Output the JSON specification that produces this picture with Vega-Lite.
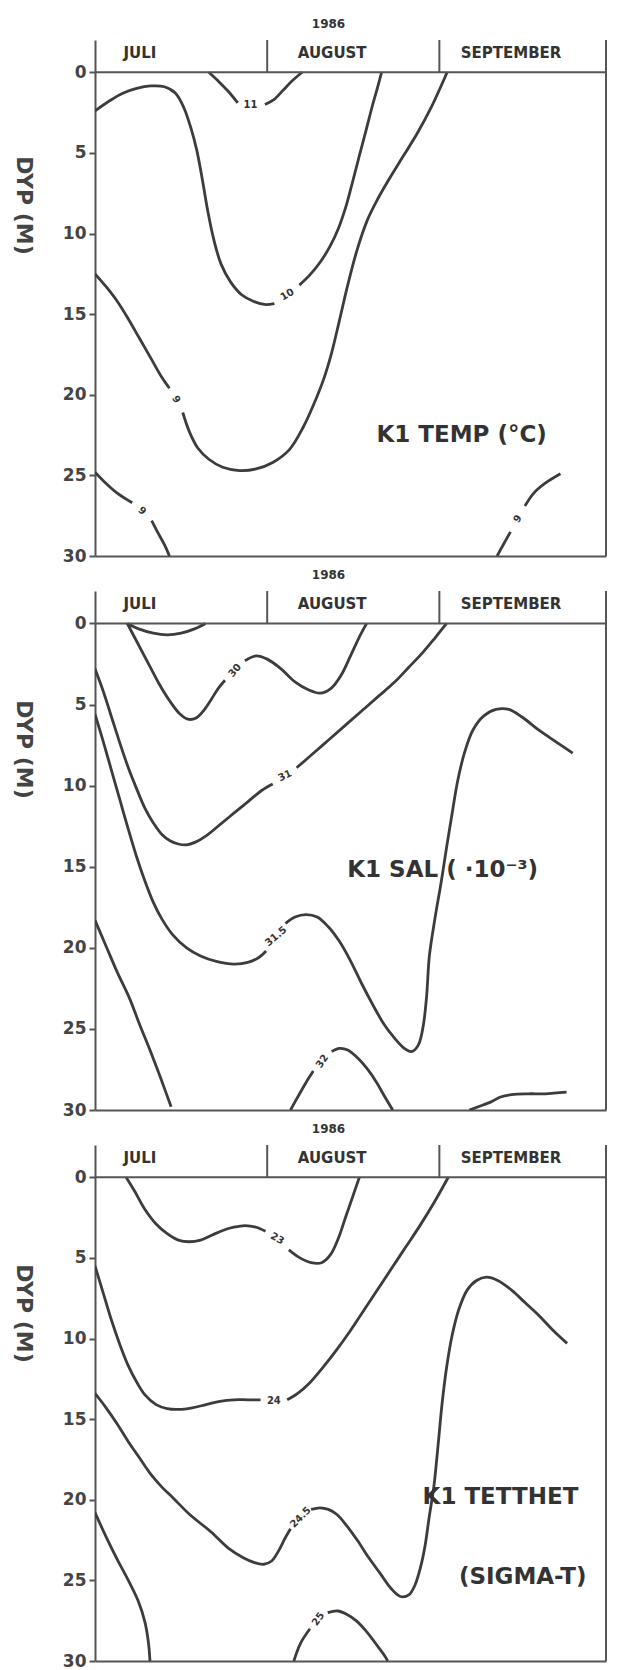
{
"$schema": "https://vega.github.io/schema/vega-lite/v6.json",
"background": "white",
"padding": {"left": 12, "top": 18, "right": 4, "bottom": 0},
"spacing": 5,
"config": {"view": {"stroke": null}, "font": "DejaVu Sans", "axis": {"grid": false}, "title": {"fontSize": 12, "fontWeight": "bold", "color": "#333", "font": "DejaVu Sans"}},
"datasets": {
"temp": [
{"k":"11a","dag":20.5,"dybde":0},{"k":"11a","dag":22.2,"dybde":0.55},{"k":"11a","dag":23.9,"dybde":1.15},{"k":"11a","dag":25.7,"dybde":1.9},
{"k":"11b","dag":30.6,"dybde":2.0},{"k":"11b","dag":32.2,"dybde":1.7},{"k":"11b","dag":33.9,"dybde":1.1},{"k":"11b","dag":35.6,"dybde":0.5},{"k":"11b","dag":37.3,"dybde":0},
{"k":"10a","dag":0,"dybde":2.4},{"k":"10a","dag":2.5,"dybde":1.8},{"k":"10a","dag":5,"dybde":1.3},{"k":"10a","dag":7.5,"dybde":1.0},{"k":"10a","dag":10,"dybde":0.85},{"k":"10a","dag":12.5,"dybde":0.9},{"k":"10a","dag":14.5,"dybde":1.3},{"k":"10a","dag":16,"dybde":2.2},{"k":"10a","dag":17.3,"dybde":3.5},{"k":"10a","dag":18.3,"dybde":4.8},{"k":"10a","dag":19.3,"dybde":6.6},{"k":"10a","dag":20.3,"dybde":8.6},{"k":"10a","dag":21.4,"dybde":10.4},{"k":"10a","dag":22.7,"dybde":11.9},{"k":"10a","dag":24.4,"dybde":13.0},{"k":"10a","dag":26.4,"dybde":13.8},{"k":"10a","dag":28.5,"dybde":14.2},{"k":"10a","dag":30.5,"dybde":14.4},{"k":"10a","dag":32.3,"dybde":14.35},
{"k":"10b","dag":36.8,"dybde":13.2},{"k":"10b","dag":38.6,"dybde":12.6},{"k":"10b","dag":40.5,"dybde":11.8},{"k":"10b","dag":42.3,"dybde":10.8},{"k":"10b","dag":43.8,"dybde":9.7},{"k":"10b","dag":45.2,"dybde":8.3},{"k":"10b","dag":46.3,"dybde":6.9},{"k":"10b","dag":47.5,"dybde":5.3},{"k":"10b","dag":48.8,"dybde":3.6},{"k":"10b","dag":50,"dybde":2.0},{"k":"10b","dag":50.9,"dybde":0.9},{"k":"10b","dag":51.6,"dybde":0},
{"k":"9a","dag":0,"dybde":12.5},{"k":"9a","dag":2,"dybde":13.3},{"k":"9a","dag":4,"dybde":14.2},{"k":"9a","dag":6,"dybde":15.3},{"k":"9a","dag":8,"dybde":16.5},{"k":"9a","dag":10,"dybde":17.7},{"k":"9a","dag":12,"dybde":18.9},{"k":"9a","dag":13.4,"dybde":19.6},
{"k":"9b","dag":15.8,"dybde":21.1},{"k":"9b","dag":17,"dybde":22.3},{"k":"9b","dag":18.5,"dybde":23.3},{"k":"9b","dag":20.5,"dybde":24.0},{"k":"9b","dag":23,"dybde":24.5},{"k":"9b","dag":26,"dybde":24.7},{"k":"9b","dag":29,"dybde":24.6},{"k":"9b","dag":32,"dybde":24.2},{"k":"9b","dag":35,"dybde":23.4},{"k":"9b","dag":37.5,"dybde":22.0},{"k":"9b","dag":39.5,"dybde":20.5},{"k":"9b","dag":41.2,"dybde":19.0},{"k":"9b","dag":42.6,"dybde":17.4},{"k":"9b","dag":44,"dybde":15.4},{"k":"9b","dag":45.5,"dybde":13.2},{"k":"9b","dag":47.2,"dybde":11.0},{"k":"9b","dag":49,"dybde":9.2},{"k":"9b","dag":51,"dybde":7.8},{"k":"9b","dag":53,"dybde":6.6},{"k":"9b","dag":55.5,"dybde":5.2},{"k":"9b","dag":58,"dybde":3.8},{"k":"9b","dag":60.5,"dybde":2.2},{"k":"9b","dag":63.4,"dybde":0},
{"k":"9c","dag":0,"dybde":24.8},{"k":"9c","dag":2,"dybde":25.5},{"k":"9c","dag":4,"dybde":26.1},{"k":"9c","dag":6.7,"dybde":26.7},
{"k":"9d","dag":10.2,"dybde":27.8},{"k":"9d","dag":11.4,"dybde":28.6},{"k":"9d","dag":12.5,"dybde":29.3},{"k":"9d","dag":13.4,"dybde":30},
{"k":"9e","dag":72.4,"dybde":30},{"k":"9e","dag":73.5,"dybde":29.3},{"k":"9e","dag":74.8,"dybde":28.5},
{"k":"9f","dag":77.4,"dybde":26.9},{"k":"9f","dag":79,"dybde":26.1},{"k":"9f","dag":81,"dybde":25.5},{"k":"9f","dag":83.8,"dybde":24.9}
],
"sal": [
{"k":"dip","dag":5.8,"dybde":0},{"k":"dip","dag":8,"dybde":0.35},{"k":"dip","dag":10.5,"dybde":0.6},{"k":"dip","dag":13,"dybde":0.7},{"k":"dip","dag":15.5,"dybde":0.6},{"k":"dip","dag":17.8,"dybde":0.35},{"k":"dip","dag":19.9,"dybde":0},
{"k":"30a","dag":5.8,"dybde":0},{"k":"30a","dag":7.5,"dybde":1.1},{"k":"30a","dag":9.5,"dybde":2.4},{"k":"30a","dag":11.5,"dybde":3.7},{"k":"30a","dag":13.5,"dybde":4.8},{"k":"30a","dag":15.2,"dybde":5.55},{"k":"30a","dag":16.7,"dybde":5.9},{"k":"30a","dag":18.1,"dybde":5.85},{"k":"30a","dag":19.5,"dybde":5.4},{"k":"30a","dag":20.9,"dybde":4.7},{"k":"30a","dag":22.2,"dybde":4.0},{"k":"30a","dag":23.4,"dybde":3.5},
{"k":"30b","dag":27,"dybde":2.3},{"k":"30b","dag":29,"dybde":2.0},{"k":"30b","dag":31,"dybde":2.2},{"k":"30b","dag":33.5,"dybde":2.8},{"k":"30b","dag":36,"dybde":3.6},{"k":"30b","dag":38.5,"dybde":4.1},{"k":"30b","dag":40.5,"dybde":4.3},{"k":"30b","dag":42.5,"dybde":4.0},{"k":"30b","dag":44.3,"dybde":3.2},{"k":"30b","dag":46,"dybde":2.0},{"k":"30b","dag":47.5,"dybde":0.9},{"k":"30b","dag":48.9,"dybde":0},
{"k":"31a","dag":0,"dybde":2.8},{"k":"31a","dag":1.5,"dybde":4.2},{"k":"31a","dag":3,"dybde":5.8},{"k":"31a","dag":4.5,"dybde":7.4},{"k":"31a","dag":6,"dybde":8.9},{"k":"31a","dag":7.5,"dybde":10.2},{"k":"31a","dag":9,"dybde":11.4},{"k":"31a","dag":10.5,"dybde":12.3},{"k":"31a","dag":12,"dybde":13.0},{"k":"31a","dag":13.5,"dybde":13.4},{"k":"31a","dag":15,"dybde":13.6},{"k":"31a","dag":16.5,"dybde":13.65},{"k":"31a","dag":18,"dybde":13.5},{"k":"31a","dag":20,"dybde":13.1},{"k":"31a","dag":22.5,"dybde":12.4},{"k":"31a","dag":25,"dybde":11.7},{"k":"31a","dag":27.5,"dybde":11.0},{"k":"31a","dag":30,"dybde":10.3},{"k":"31a","dag":32,"dybde":9.9},
{"k":"31b","dag":36.3,"dybde":8.9},{"k":"31b","dag":39,"dybde":8.1},{"k":"31b","dag":42,"dybde":7.2},{"k":"31b","dag":45,"dybde":6.3},{"k":"31b","dag":48,"dybde":5.4},{"k":"31b","dag":51,"dybde":4.5},{"k":"31b","dag":54,"dybde":3.6},{"k":"31b","dag":56.5,"dybde":2.7},{"k":"31b","dag":59,"dybde":1.8},{"k":"31b","dag":61.2,"dybde":0.9},{"k":"31b","dag":63.3,"dybde":0},
{"k":"315a","dag":0,"dybde":5.6},{"k":"315a","dag":1.5,"dybde":7.3},{"k":"315a","dag":3,"dybde":9.1},{"k":"315a","dag":4.5,"dybde":10.9},{"k":"315a","dag":6,"dybde":12.7},{"k":"315a","dag":7.5,"dybde":14.4},{"k":"315a","dag":9,"dybde":15.9},{"k":"315a","dag":10.5,"dybde":17.2},{"k":"315a","dag":12,"dybde":18.2},{"k":"315a","dag":14,"dybde":19.2},{"k":"315a","dag":16.5,"dybde":20.0},{"k":"315a","dag":19,"dybde":20.5},{"k":"315a","dag":22,"dybde":20.85},{"k":"315a","dag":25,"dybde":21.0},{"k":"315a","dag":27.5,"dybde":20.9},{"k":"315a","dag":29.5,"dybde":20.6},{"k":"315a","dag":30.8,"dybde":20.2},
{"k":"315b","dag":34.3,"dybde":18.5},{"k":"315b","dag":36,"dybde":18.1},{"k":"315b","dag":38,"dybde":17.95},{"k":"315b","dag":40,"dybde":18.1},{"k":"315b","dag":42,"dybde":18.7},{"k":"315b","dag":44,"dybde":19.6},{"k":"315b","dag":46,"dybde":20.8},{"k":"315b","dag":48,"dybde":22.2},{"k":"315b","dag":50,"dybde":23.5},{"k":"315b","dag":52,"dybde":24.7},{"k":"315b","dag":54,"dybde":25.6},{"k":"315b","dag":55.7,"dybde":26.2},{"k":"315b","dag":57,"dybde":26.4},{"k":"315b","dag":58.2,"dybde":26.0},{"k":"315b","dag":59.1,"dybde":24.8},{"k":"315b","dag":59.7,"dybde":23.0},{"k":"315b","dag":60.2,"dybde":20.5},{"k":"315b","dag":61.2,"dybde":18.2},{"k":"315b","dag":62.3,"dybde":16.0},{"k":"315b","dag":63.3,"dybde":13.8},{"k":"315b","dag":64.3,"dybde":11.7},{"k":"315b","dag":65.3,"dybde":9.7},{"k":"315b","dag":66.5,"dybde":8.0},{"k":"315b","dag":68,"dybde":6.6},{"k":"315b","dag":70,"dybde":5.7},{"k":"315b","dag":72.2,"dybde":5.3},{"k":"315b","dag":74.5,"dybde":5.3},{"k":"315b","dag":77,"dybde":5.8},{"k":"315b","dag":80,"dybde":6.6},{"k":"315b","dag":83,"dybde":7.3},{"k":"315b","dag":86,"dybde":8.0},
{"k":"32a","dag":35.2,"dybde":30},{"k":"32a","dag":36.5,"dybde":29.2},{"k":"32a","dag":38,"dybde":28.3},{"k":"32a","dag":39.3,"dybde":27.6},
{"k":"32b","dag":42.6,"dybde":26.4},{"k":"32b","dag":44,"dybde":26.2},{"k":"32b","dag":45.5,"dybde":26.3},{"k":"32b","dag":47.3,"dybde":26.8},{"k":"32b","dag":49.1,"dybde":27.5},{"k":"32b","dag":50.7,"dybde":28.3},{"k":"32b","dag":52.2,"dybde":29.2},{"k":"32b","dag":53.6,"dybde":30},
{"k":"bh","dag":67.4,"dybde":30},{"k":"bh","dag":69,"dybde":29.8},{"k":"bh","dag":71.3,"dybde":29.5},{"k":"bh","dag":73,"dybde":29.2},{"k":"bh","dag":75,"dybde":29.05},{"k":"bh","dag":78,"dybde":29.0},{"k":"bh","dag":81,"dybde":29.0},{"k":"bh","dag":84.9,"dybde":28.9},
{"k":"v","dag":0,"dybde":18.3},{"k":"v","dag":2,"dybde":19.9},{"k":"v","dag":4,"dybde":21.5},{"k":"v","dag":6.2,"dybde":23.1},{"k":"v","dag":8,"dybde":24.7},{"k":"v","dag":10,"dybde":26.4},{"k":"v","dag":12,"dybde":28.2},{"k":"v","dag":13.7,"dybde":29.8}
],
"tetthet": [
{"k":"23a","dag":5.6,"dybde":0},{"k":"23a","dag":7.2,"dybde":0.9},{"k":"23a","dag":9,"dybde":2.0},{"k":"23a","dag":11,"dybde":2.9},{"k":"23a","dag":13,"dybde":3.5},{"k":"23a","dag":15,"dybde":3.9},{"k":"23a","dag":17,"dybde":4.0},{"k":"23a","dag":19,"dybde":3.9},{"k":"23a","dag":21,"dybde":3.6},{"k":"23a","dag":23,"dybde":3.3},{"k":"23a","dag":25,"dybde":3.1},{"k":"23a","dag":27,"dybde":3.0},{"k":"23a","dag":29,"dybde":3.1},{"k":"23a","dag":30.7,"dybde":3.35},
{"k":"23b","dag":34.9,"dybde":4.5},{"k":"23b","dag":36.9,"dybde":5.0},{"k":"23b","dag":38.9,"dybde":5.3},{"k":"23b","dag":40.8,"dybde":5.3},{"k":"23b","dag":42.4,"dybde":4.8},{"k":"23b","dag":43.8,"dybde":3.8},{"k":"23b","dag":45.1,"dybde":2.5},{"k":"23b","dag":46.4,"dybde":1.2},{"k":"23b","dag":47.6,"dybde":0},
{"k":"24a","dag":0,"dybde":5.5},{"k":"24a","dag":1.5,"dybde":7.2},{"k":"24a","dag":3,"dybde":8.9},{"k":"24a","dag":4.5,"dybde":10.4},{"k":"24a","dag":6,"dybde":11.7},{"k":"24a","dag":7.5,"dybde":12.7},{"k":"24a","dag":9,"dybde":13.5},{"k":"24a","dag":11,"dybde":14.1},{"k":"24a","dag":13,"dybde":14.35},{"k":"24a","dag":15,"dybde":14.4},{"k":"24a","dag":17.5,"dybde":14.3},{"k":"24a","dag":20,"dybde":14.1},{"k":"24a","dag":22.5,"dybde":13.9},{"k":"24a","dag":25,"dybde":13.8},{"k":"24a","dag":27.5,"dybde":13.8},{"k":"24a","dag":29.8,"dybde":13.8},
{"k":"24b","dag":34.6,"dybde":13.8},{"k":"24b","dag":36.5,"dybde":13.4},{"k":"24b","dag":38.5,"dybde":12.8},{"k":"24b","dag":41,"dybde":11.8},{"k":"24b","dag":43.5,"dybde":10.7},{"k":"24b","dag":46,"dybde":9.5},{"k":"24b","dag":48.5,"dybde":8.2},{"k":"24b","dag":51,"dybde":6.9},{"k":"24b","dag":53.5,"dybde":5.6},{"k":"24b","dag":56,"dybde":4.3},{"k":"24b","dag":58.5,"dybde":3.0},{"k":"24b","dag":61,"dybde":1.6},{"k":"24b","dag":63.6,"dybde":0},
{"k":"245a","dag":0,"dybde":13.4},{"k":"245a","dag":2,"dybde":14.3},{"k":"245a","dag":4,"dybde":15.3},{"k":"245a","dag":6,"dybde":16.4},{"k":"245a","dag":8,"dybde":17.4},{"k":"245a","dag":10,"dybde":18.4},{"k":"245a","dag":12,"dybde":19.2},{"k":"245a","dag":14.1,"dybde":19.9},{"k":"245a","dag":17,"dybde":20.9},{"k":"245a","dag":20.9,"dybde":22.0},{"k":"245a","dag":24,"dybde":23.0},{"k":"245a","dag":26.7,"dybde":23.6},{"k":"245a","dag":28.7,"dybde":23.9},{"k":"245a","dag":30.4,"dybde":24.0},{"k":"245a","dag":31.8,"dybde":23.8},{"k":"245a","dag":33,"dybde":23.2},{"k":"245a","dag":34.2,"dybde":22.4},{"k":"245a","dag":35.2,"dybde":21.8},
{"k":"245b","dag":38.9,"dybde":20.6},{"k":"245b","dag":40.5,"dybde":20.5},{"k":"245b","dag":42,"dybde":20.6},{"k":"245b","dag":43.5,"dybde":20.9},{"k":"245b","dag":45.3,"dybde":21.6},{"k":"245b","dag":47.2,"dybde":22.5},{"k":"245b","dag":49.3,"dybde":23.6},{"k":"245b","dag":51.4,"dybde":24.6},{"k":"245b","dag":53.3,"dybde":25.5},{"k":"245b","dag":55,"dybde":26.0},{"k":"245b","dag":56.5,"dybde":25.9},{"k":"245b","dag":57.6,"dybde":25.3},{"k":"245b","dag":58.6,"dybde":24.2},{"k":"245b","dag":59.4,"dybde":22.9},{"k":"245b","dag":60.2,"dybde":21.0},{"k":"245b","dag":61,"dybde":19.2},{"k":"245b","dag":61.8,"dybde":16.5},{"k":"245b","dag":62.5,"dybde":14.0},{"k":"245b","dag":63.3,"dybde":11.8},{"k":"245b","dag":64.3,"dybde":9.8},{"k":"245b","dag":65.5,"dybde":8.2},{"k":"245b","dag":67,"dybde":7.0},{"k":"245b","dag":68.7,"dybde":6.4},{"k":"245b","dag":70.5,"dybde":6.2},{"k":"245b","dag":72.5,"dybde":6.4},{"k":"245b","dag":75,"dybde":7.0},{"k":"245b","dag":77.5,"dybde":7.8},{"k":"245b","dag":80,"dybde":8.6},{"k":"245b","dag":82.5,"dybde":9.5},{"k":"245b","dag":85,"dybde":10.3},
{"k":"25a","dag":35.8,"dybde":30},{"k":"25a","dag":37,"dybde":28.9},{"k":"25a","dag":38.7,"dybde":28.0},
{"k":"25b","dag":41.9,"dybde":27.0},{"k":"25b","dag":43.7,"dybde":26.9},{"k":"25b","dag":45.3,"dybde":27.1},{"k":"25b","dag":47,"dybde":27.5},{"k":"25b","dag":48.7,"dybde":28.1},{"k":"25b","dag":50.5,"dybde":28.9},{"k":"25b","dag":52.2,"dybde":29.7},{"k":"25b","dag":52.7,"dybde":30},
{"k":"v","dag":0,"dybde":20.8},{"k":"v","dag":2,"dybde":22.3},{"k":"v","dag":4,"dybde":23.7},{"k":"v","dag":6,"dybde":25.0},{"k":"v","dag":7.8,"dybde":26.3},{"k":"v","dag":9,"dybde":27.6},{"k":"v","dag":9.6,"dybde":28.8},{"k":"v","dag":9.9,"dybde":30}
],
"maaneder": [{"maaned":"JULI","dag":8.1},{"maaned":"AUGUST","dag":42.7},{"maaned":"SEPTEMBER","dag":74.9}],
"skille": [{"dag":31},{"dag":62}],
"en": [{}]
},
"vconcat": [
{
"width": 511, "height": 516,
"title": {"text": "1986", "dx": -22, "offset": 8},
"layer": [
{"data": {"name": "temp"}, "mark": {"type": "line", "interpolate": "catmull-rom", "stroke": "#3c3c3c", "strokeWidth": 2.8, "clip": true},
 "encoding": {
  "x": {"field": "dag", "type": "quantitative", "scale": {"domain": [0, 92], "nice": false, "zero": false}, "axis": {"title": null, "labels": false, "ticks": false, "domain": true, "domainColor": "#555", "domainWidth": 2}},
  "y": {"field": "dybde", "type": "quantitative", "scale": {"domain": [-2, 30], "reverse": true, "nice": false, "zero": false}, "axis": {"title": "DYP (M)", "values": [0,5,10,15,20,25,30], "format": "d", "tickSize": 6, "tickWidth": 2, "tickColor": "#555", "domainColor": "#555", "domainWidth": 2, "labelFontSize": 17, "labelFontWeight": "bold", "labelColor": "#444", "labelPadding": 3, "titleAngle": 90, "titleX": -72, "titleY": 165, "titleFontSize": 22, "titleFontWeight": "bold", "titleColor": "#444", "titleBaseline": "middle", "titleAlign": "center"}},
  "detail": {"field": "k"}, "order": {"value": null}}},
{"data": {"name": "en"}, "mark": {"type": "rule", "stroke": "#555", "strokeWidth": 2}, "encoding": {"x": {"datum": 0}, "x2": {"datum": 92}, "y": {"datum": 0}}},
{"data": {"name": "en"}, "mark": {"type": "rule", "stroke": "#555", "strokeWidth": 2}, "encoding": {"x": {"datum": 92}, "y": {"datum": -2}, "y2": {"datum": 30}}},
{"data": {"name": "skille"}, "mark": {"type": "rule", "stroke": "#555", "strokeWidth": 2}, "encoding": {"x": {"field": "dag", "type": "quantitative"}, "y": {"datum": -2}, "y2": {"datum": 0}}},
{"data": {"name": "maaneder"}, "mark": {"type": "text", "fontSize": 15, "fontWeight": "bold", "color": "#333", "baseline": "middle"}, "encoding": {"x": {"field": "dag", "type": "quantitative"}, "y": {"datum": -1.2}, "text": {"field": "maaned"}}},
{"data": {"name": "en"}, "mark": {"type": "text", "fontSize": 23, "fontWeight": "bold", "color": "#333", "baseline": "middle"}, "encoding": {"x": {"datum": 66}, "y": {"datum": 22.5}, "text": {"value": "K1 TEMP (°C)"}}},
{"data": {"values": [{"tekst": "11", "dag": 28.0, "dybde": 2.05}]}, "mark": {"type": "text", "fontSize": 10, "fontWeight": "bold", "color": "#333", "angle": 0}, "encoding": {"x": {"field": "dag", "type": "quantitative"}, "y": {"field": "dybde", "type": "quantitative"}, "text": {"field": "tekst"}}},
{"data": {"values": [{"tekst": "10", "dag": 34.6, "dybde": 13.8}]}, "mark": {"type": "text", "fontSize": 10, "fontWeight": "bold", "color": "#333", "angle": -30}, "encoding": {"x": {"field": "dag", "type": "quantitative"}, "y": {"field": "dybde", "type": "quantitative"}, "text": {"field": "tekst"}}},
{"data": {"values": [{"tekst": "9", "dag": 14.6, "dybde": 20.3}]}, "mark": {"type": "text", "fontSize": 10, "fontWeight": "bold", "color": "#333", "angle": 60}, "encoding": {"x": {"field": "dag", "type": "quantitative"}, "y": {"field": "dybde", "type": "quantitative"}, "text": {"field": "tekst"}}},
{"data": {"values": [{"tekst": "9", "dag": 8.5, "dybde": 27.2}]}, "mark": {"type": "text", "fontSize": 10, "fontWeight": "bold", "color": "#333", "angle": 40}, "encoding": {"x": {"field": "dag", "type": "quantitative"}, "y": {"field": "dybde", "type": "quantitative"}, "text": {"field": "tekst"}}},
{"data": {"values": [{"tekst": "9", "dag": 76.1, "dybde": 27.7}]}, "mark": {"type": "text", "fontSize": 10, "fontWeight": "bold", "color": "#333", "angle": -55}, "encoding": {"x": {"field": "dag", "type": "quantitative"}, "y": {"field": "dybde", "type": "quantitative"}, "text": {"field": "tekst"}}}
]
},
{
"width": 511, "height": 519,
"title": {"text": "1986", "dx": -22, "offset": 8},
"layer": [
{"data": {"name": "sal"}, "mark": {"type": "line", "interpolate": "catmull-rom", "stroke": "#3c3c3c", "strokeWidth": 2.8, "clip": true},
 "encoding": {
  "x": {"field": "dag", "type": "quantitative", "scale": {"domain": [0, 92], "nice": false, "zero": false}, "axis": {"title": null, "labels": false, "ticks": false, "domain": true, "domainColor": "#555", "domainWidth": 2}},
  "y": {"field": "dybde", "type": "quantitative", "scale": {"domain": [-2, 30], "reverse": true, "nice": false, "zero": false}, "axis": {"title": "DYP (M)", "values": [0,5,10,15,20,25,30], "format": "d", "tickSize": 6, "tickWidth": 2, "tickColor": "#555", "domainColor": "#555", "domainWidth": 2, "labelFontSize": 17, "labelFontWeight": "bold", "labelColor": "#444", "labelPadding": 3, "titleAngle": 90, "titleX": -72, "titleY": 158, "titleFontSize": 22, "titleFontWeight": "bold", "titleColor": "#444", "titleBaseline": "middle", "titleAlign": "center"}},
  "detail": {"field": "k"}, "order": {"value": null}}},
{"data": {"name": "en"}, "mark": {"type": "rule", "stroke": "#555", "strokeWidth": 2}, "encoding": {"x": {"datum": 0}, "x2": {"datum": 92}, "y": {"datum": 0}}},
{"data": {"name": "en"}, "mark": {"type": "rule", "stroke": "#555", "strokeWidth": 2}, "encoding": {"x": {"datum": 92}, "y": {"datum": -2}, "y2": {"datum": 30}}},
{"data": {"name": "skille"}, "mark": {"type": "rule", "stroke": "#555", "strokeWidth": 2}, "encoding": {"x": {"field": "dag", "type": "quantitative"}, "y": {"datum": -2}, "y2": {"datum": 0}}},
{"data": {"name": "maaneder"}, "mark": {"type": "text", "fontSize": 15, "fontWeight": "bold", "color": "#333", "baseline": "middle"}, "encoding": {"x": {"field": "dag", "type": "quantitative"}, "y": {"datum": -1.2}, "text": {"field": "maaned"}}},
{"data": {"name": "en"}, "mark": {"type": "text", "fontSize": 23, "fontWeight": "bold", "color": "#333", "baseline": "middle"}, "encoding": {"x": {"datum": 62.6}, "y": {"datum": 15.2}, "text": {"value": "K1 SAL ( ·10⁻³)"}}},
{"data": {"values": [{"tekst": "30", "dag": 25.2, "dybde": 2.9}]}, "mark": {"type": "text", "fontSize": 10, "fontWeight": "bold", "color": "#333", "angle": -50}, "encoding": {"x": {"field": "dag", "type": "quantitative"}, "y": {"field": "dybde", "type": "quantitative"}, "text": {"field": "tekst"}}},
{"data": {"values": [{"tekst": "31", "dag": 34.2, "dybde": 9.4}]}, "mark": {"type": "text", "fontSize": 10, "fontWeight": "bold", "color": "#333", "angle": -25}, "encoding": {"x": {"field": "dag", "type": "quantitative"}, "y": {"field": "dybde", "type": "quantitative"}, "text": {"field": "tekst"}}},
{"data": {"values": [{"tekst": "31.5", "dag": 32.6, "dybde": 19.3}]}, "mark": {"type": "text", "fontSize": 10, "fontWeight": "bold", "color": "#333", "angle": -40}, "encoding": {"x": {"field": "dag", "type": "quantitative"}, "y": {"field": "dybde", "type": "quantitative"}, "text": {"field": "tekst"}}},
{"data": {"values": [{"tekst": "32", "dag": 40.9, "dybde": 27.0}]}, "mark": {"type": "text", "fontSize": 10, "fontWeight": "bold", "color": "#333", "angle": -55}, "encoding": {"x": {"field": "dag", "type": "quantitative"}, "y": {"field": "dybde", "type": "quantitative"}, "text": {"field": "tekst"}}}
]
},
{
"width": 511, "height": 516,
"title": {"text": "1986", "dx": -22, "offset": 8},
"layer": [
{"data": {"name": "tetthet"}, "mark": {"type": "line", "interpolate": "catmull-rom", "stroke": "#3c3c3c", "strokeWidth": 2.8, "clip": true},
 "encoding": {
  "x": {"field": "dag", "type": "quantitative", "scale": {"domain": [0, 92], "nice": false, "zero": false}, "axis": {"title": null, "labels": false, "ticks": false, "domain": true, "domainColor": "#555", "domainWidth": 2}},
  "y": {"field": "dybde", "type": "quantitative", "scale": {"domain": [-2, 30], "reverse": true, "nice": false, "zero": false}, "axis": {"title": "DYP (M)", "values": [0,5,10,15,20,25,30], "format": "d", "tickSize": 6, "tickWidth": 2, "tickColor": "#555", "domainColor": "#555", "domainWidth": 2, "labelFontSize": 17, "labelFontWeight": "bold", "labelColor": "#444", "labelPadding": 3, "titleAngle": 90, "titleX": -72, "titleY": 168, "titleFontSize": 22, "titleFontWeight": "bold", "titleColor": "#444", "titleBaseline": "middle", "titleAlign": "center"}},
  "detail": {"field": "k"}, "order": {"value": null}}},
{"data": {"name": "en"}, "mark": {"type": "rule", "stroke": "#555", "strokeWidth": 2}, "encoding": {"x": {"datum": 0}, "x2": {"datum": 92}, "y": {"datum": 0}}},
{"data": {"name": "en"}, "mark": {"type": "rule", "stroke": "#555", "strokeWidth": 2}, "encoding": {"x": {"datum": 92}, "y": {"datum": -2}, "y2": {"datum": 30}}},
{"data": {"name": "skille"}, "mark": {"type": "rule", "stroke": "#555", "strokeWidth": 2}, "encoding": {"x": {"field": "dag", "type": "quantitative"}, "y": {"datum": -2}, "y2": {"datum": 0}}},
{"data": {"name": "maaneder"}, "mark": {"type": "text", "fontSize": 15, "fontWeight": "bold", "color": "#333", "baseline": "middle"}, "encoding": {"x": {"field": "dag", "type": "quantitative"}, "y": {"datum": -1.2}, "text": {"field": "maaned"}}},
{"data": {"name": "en"}, "mark": {"type": "text", "fontSize": 23, "fontWeight": "bold", "color": "#333", "baseline": "middle"}, "encoding": {"x": {"datum": 73}, "y": {"datum": 19.8}, "text": {"value": "K1 TETTHET"}}},
{"data": {"name": "en"}, "mark": {"type": "text", "fontSize": 23, "fontWeight": "bold", "color": "#333", "baseline": "middle"}, "encoding": {"x": {"datum": 77}, "y": {"datum": 24.8}, "text": {"value": "(SIGMA-T)"}}},
{"data": {"values": [{"tekst": "23", "dag": 32.8, "dybde": 3.8}]}, "mark": {"type": "text", "fontSize": 10, "fontWeight": "bold", "color": "#333", "angle": 30}, "encoding": {"x": {"field": "dag", "type": "quantitative"}, "y": {"field": "dybde", "type": "quantitative"}, "text": {"field": "tekst"}}},
{"data": {"values": [{"tekst": "24", "dag": 32.2, "dybde": 13.9}]}, "mark": {"type": "text", "fontSize": 10, "fontWeight": "bold", "color": "#333", "angle": 0}, "encoding": {"x": {"field": "dag", "type": "quantitative"}, "y": {"field": "dybde", "type": "quantitative"}, "text": {"field": "tekst"}}},
{"data": {"values": [{"tekst": "24.5", "dag": 37.0, "dybde": 21.1}]}, "mark": {"type": "text", "fontSize": 10, "fontWeight": "bold", "color": "#333", "angle": -45}, "encoding": {"x": {"field": "dag", "type": "quantitative"}, "y": {"field": "dybde", "type": "quantitative"}, "text": {"field": "tekst"}}},
{"data": {"values": [{"tekst": "25", "dag": 40.2, "dybde": 27.4}]}, "mark": {"type": "text", "fontSize": 10, "fontWeight": "bold", "color": "#333", "angle": -55}, "encoding": {"x": {"field": "dag", "type": "quantitative"}, "y": {"field": "dybde", "type": "quantitative"}, "text": {"field": "tekst"}}}
]
}
]
}
